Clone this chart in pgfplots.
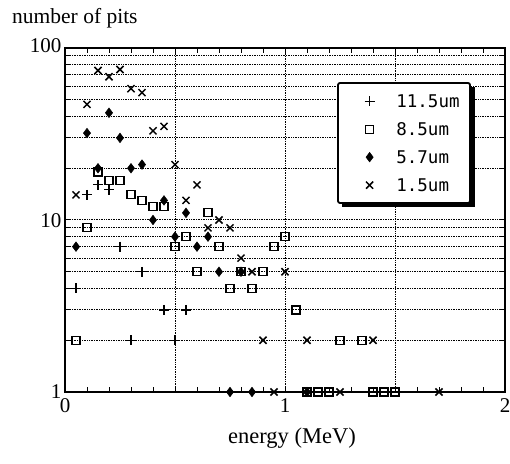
\documentclass[border=0pt]{standalone}
\usepackage{fontspec}
\setmainfont{Liberation Serif}
\newfontfamily\legendfont{DejaVu Sans Mono}
\usepackage{pgfplots}
\pgfplotsset{compat=1.18}
\begin{document}
\begin{tikzpicture}
\useasboundingbox (-65pt,-71pt) rectangle (445pt,392pt);
\begin{axis}[
  at={(0pt,0pt)}, anchor=south west,
  scale only axis, width=440pt, height=344pt,
  xmin=0, xmax=2, ymin=1, ymax=100, ymode=log,
  clip=false,
  axis line style={line width=1.5pt},
  xtick={0,1,2}, xticklabels={0,1,2},
  minor xtick={0.1,0.2,...,1.95},
  extra x ticks={0.5,1,1.5}, extra x tick labels={},
  extra x tick style={grid=major},
  ytick={1,10,100},
  yticklabels={1,{\raisebox{-16pt}{10}},{\raisebox{5pt}{100}}},
  minor ytick={2,3,4,5,6,7,8,9,20,30,40,50,60,70,80,90},
  ymajorgrids, yminorgrids,
  major tick length=5pt, minor tick length=5pt,
  every tick/.style={black, line width=1pt},
  major grid style={dash pattern=on 1pt off 0.7pt, line width=1pt, black},
  minor grid style={dash pattern=on 1pt off 0.7pt, line width=1pt, black},
  tick label style={font=\fontsize{21}{21}\selectfont},
  xticklabel style={yshift=-3pt},
  legend style={at={(rel axis cs:0.6205,0.8983)}, anchor=north west,
    draw=none, fill=white,
    minimum width=132pt, minimum height=120pt,
    inner xsep=10pt, inner ysep=12pt, row sep=16pt, column sep=21pt,
    font=\legendfont\fontsize{17.5}{17.5}\selectfont,
    nodes={inner sep=0pt, text height=12pt, text depth=0pt, minimum width=0pt, minimum height=0pt}},
  legend cell align=left,
  legend image code/.code={\draw[#1] plot coordinates {(0pt,0pt)}; \node[inner sep=0pt, minimum width=26pt, minimum height=12pt, anchor=east] at (6pt,0pt) {};},
]
\addplot[only marks, mark=+, mark size=5pt, line width=1.2pt, black] coordinates {
(0.05,4) (0.1,14) (0.15,16) (0.2,15) (0.25,7) (0.3,2) (0.35,5) (0.45,3) (0.5,2) (0.55,3)};
\addlegendentry{11.5um}
\addplot[only marks, mark=square, mark size=4pt, line width=1.2pt, black] coordinates {
(0.05,2) (0.1,9) (0.15,19) (0.2,17) (0.25,17) (0.3,14) (0.35,13) (0.4,12) (0.45,12)
(0.5,7) (0.55,8) (0.6,5) (0.65,11) (0.7,7) (0.75,4) (0.8,5) (0.85,4) (0.9,5) (0.95,7)
(1.0,8) (1.05,3) (1.1,1) (1.15,1) (1.2,1) (1.25,2) (1.35,2) (1.4,1) (1.45,1) (1.5,1)};
\addlegendentry{8.5um}
\addplot[only marks, mark=diamond*, mark size=4.8pt, line width=0.5pt, black, mark options={fill=black}] coordinates {
(0.05,7) (0.1,32) (0.15,20) (0.2,42) (0.25,30) (0.3,20) (0.35,21) (0.4,10) (0.45,13)
(0.5,8) (0.55,11) (0.6,7) (0.65,8) (0.7,5) (0.75,1) (0.8,5) (0.85,1) (1.1,1)};
\addlegendentry{5.7um}
\addplot[only marks, mark=x, mark size=5pt, line width=1.5pt, black] coordinates {
(0.05,14) (0.1,47) (0.15,74) (0.2,68) (0.25,75) (0.3,58) (0.35,55) (0.4,33) (0.45,35)
(0.5,21) (0.55,13) (0.6,16) (0.65,9) (0.7,10) (0.75,9) (0.8,6) (0.85,5) (0.9,2)
(0.95,1) (1.0,5) (1.1,2) (1.25,1) (1.4,2) (1.7,1)};
\addlegendentry{1.5um}
\end{axis}
\draw[line width=1.8pt, rounded corners=2pt] (273pt,309pt) rectangle (405pt,189pt);
\fill[black] (405pt,305pt) rectangle (409.5pt,184.5pt);
\fill[black] (277pt,189pt) rectangle (409.5pt,184.5pt);
\node[anchor=base west, font=\fontsize{21.5}{21.5}\selectfont, inner sep=0pt] at (-53pt,368pt) {number of pits};
\node[anchor=base, font=\fontsize{22.5}{22.5}\selectfont, inner sep=0pt] at (227pt,-51pt) {energy (MeV)};
\end{tikzpicture}
\end{document}
